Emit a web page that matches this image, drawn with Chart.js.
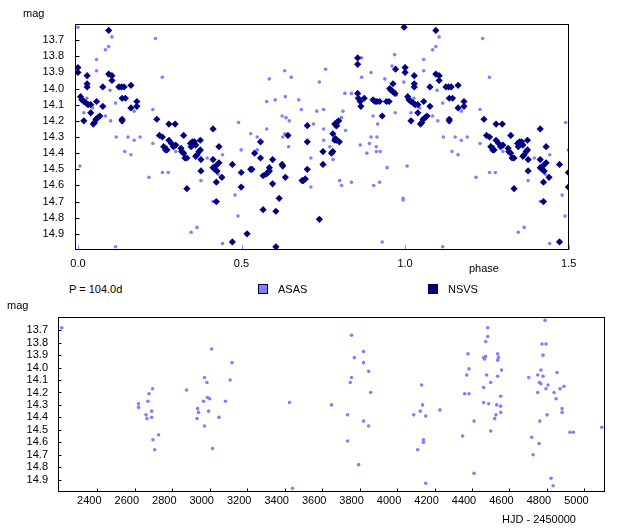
<!DOCTYPE html>
<html>
<head>
<meta charset="utf-8">
<script src="https://cdn.jsdelivr.net/npm/chart.js@4.4.1/dist/chart.umd.min.js"></script>
<style>
  body { margin: 0; background: #fff; width: 643px; height: 532px; position: relative; overflow: hidden;
         font-family: "Liberation Sans", Arial, sans-serif; font-size: 11px; color: #000; }
  canvas { position: absolute; left: 0; }
  .t { position: absolute; line-height: 12px; white-space: nowrap; }
  .sq { position: absolute; width: 8px; height: 8px; border: 1px solid #000040; }
</style>
</head>
<body>
<canvas id="fase" width="643" height="280" style="top:0"></canvas>
<canvas id="tempo" width="643" height="232" style="top:300px"></canvas>

<div class="t" style="left:23px;top:7px">mag</div>
<div class="t" style="left:469px;top:262px">phase</div>
<div class="t" style="left:69px;top:283px">P = 104.0d</div>
<div class="sq" style="left:258px;top:284px;background:#8080ff"></div>
<div class="t" style="left:278px;top:283px">ASAS</div>
<div class="sq" style="left:428px;top:284px;background:#000080"></div>
<div class="t" style="left:448px;top:283px">NSVS</div>
<div class="t" style="left:7px;top:299px">mag</div>
<div class="t" style="left:502px;top:513px">HJD - 2450000</div>

<script>
// dados
const periodo = 104.0;

const asasFase = [0.000, 0.006, 0.018, 0.027, 0.045, 0.057, 0.057, 0.084, 0.094, 0.104, 0.098, 0.084, 0.100, 0.115, 0.117,
  0.135, 0.143, 0.153, 0.162, 0.172, 0.172, 0.190, 0.115, 0.217, 0.229, 0.229, 0.237, 0.258, 0.258, 0.276, 0.270, 0.299,
  0.346, 0.364, 0.376, 0.395, 0.413, 0.429, 0.442, 0.442, 0.480, 0.489, 0.491, 0.499, 0.528, 0.548, 0.548, 0.577, 0.577,
  0.585, 0.603, 0.624, 0.626, 0.632, 0.634, 0.636, 0.646, 0.632, 0.644, 0.652, 0.675, 0.683, 0.712, 0.712, 0.720, 0.730,
  0.738, 0.757, 0.751, 0.751, 0.751, 0.770, 0.780, 0.787, 0.806, 0.810, 0.800, 0.806, 0.818, 0.816, 0.836, 0.836, 0.863,
  0.867, 0.867, 0.883, 0.891, 0.896, 0.896, 0.902, 0.904, 0.912, 0.912, 0.924, 0.916, 0.914, 0.922, 0.930, 0.945, 0.938,
  0.960, 0.968, 0.970, 0.974, 0.996, 0.994, 0.994];
const asasFaseMag = [13.62, 14.48, 14.15, 14.06, 14.12, 13.82, 13.89, 13.76, 13.74, 13.68, 14.01, 14.17, 14.20, 14.09, 14.30,
  14.21, 14.39, 14.30, 14.41, 14.32, 14.14, 14.30, 14.98, 14.55, 14.13, 14.34, 13.69, 13.93, 14.52, 14.52, 14.36, 14.39,
  14.89, 14.86, 14.57, 14.43, 14.70, 14.53, 14.41, 14.96, 14.66, 14.79, 14.21, 14.38, 14.28, 14.30, 14.38, 14.25, 14.08,
  13.94, 14.07, 14.17, 14.30, 13.89, 14.05, 14.18, 14.20, 14.28, 14.36, 13.93, 14.07, 14.13, 14.43, 14.61, 14.22, 14.14,
  13.96, 13.88, 14.13, 14.25, 14.32, 14.36, 14.44, 14.24, 14.18, 14.14, 14.57, 14.60, 14.26, 14.03, 14.03, 14.58, 14.35,
  13.93, 13.81, 14.40, 14.34, 13.90, 14.30, 14.17, 14.60, 14.36, 14.39, 14.39, 14.22, 14.30, 14.58, 14.95, 14.49, 13.94,
  13.86, 13.79, 14.15, 14.04, 13.96, 14.68, 14.69];

const nsvsFase = [0.000, 0.000, 0.094, 0.094, 0.104, 0.104, 0.028, 0.028, 0.028, 0.076, 0.008, 0.012, 0.018, 0.025, 0.031,
  0.039, 0.057, 0.076, 0.039, 0.018, 0.047, 0.051, 0.055, 0.061, 0.067, 0.125, 0.133, 0.141, 0.162, 0.135, 0.145, 0.180,
  0.180, 0.162, 0.135, 0.135, 0.241, 0.249, 0.258, 0.262, 0.268, 0.272, 0.278, 0.297, 0.278, 0.286, 0.292, 0.299, 0.315,
  0.317, 0.323, 0.327, 0.333, 0.323, 0.333, 0.344, 0.350, 0.356, 0.360, 0.346, 0.374, 0.360, 0.364, 0.370, 0.374, 0.376,
  0.376, 0.413, 0.413, 0.413, 0.419, 0.425, 0.421, 0.423, 0.423, 0.431, 0.431, 0.440, 0.472, 0.472, 0.499, 0.499, 0.517,
  0.528, 0.532, 0.540, 0.558, 0.558, 0.566, 0.566, 0.575, 0.581, 0.585, 0.585, 0.595, 0.595, 0.605, 0.605, 0.615, 0.624,
  0.626, 0.634, 0.642, 0.685, 0.689, 0.695, 0.701, 0.701, 0.701, 0.738, 0.749, 0.749, 0.779, 0.775, 0.779, 0.785, 0.791,
  0.799, 0.787, 0.785, 0.791, 0.797, 0.791, 0.855, 0.855, 0.855, 0.857, 0.863, 0.865, 0.875, 0.902, 0.908, 0.914, 0.922,
  0.930, 0.943, 0.951, 0.953, 0.957, 0.963, 0.969, 0.963, 0.971, 0.997];
const nsvsMag = [13.87, 13.90, 13.64, 13.91, 13.92, 13.95, 13.92, 13.97, 13.99, 13.99, 14.05, 14.07, 14.08, 14.09, 14.10,
  14.10, 14.08, 14.11, 14.15, 14.20, 14.22, 14.21, 14.19, 14.18, 14.17, 13.99, 13.99, 13.99, 13.98, 14.06, 14.06, 14.08,
  14.11, 14.12, 14.19, 14.20, 14.19, 14.29, 14.30, 14.36, 14.38, 14.38, 14.22, 14.22, 14.32, 14.34, 14.36, 14.35, 14.37,
  14.39, 14.40, 14.43, 14.43, 14.29, 14.62, 14.34, 14.33, 14.33, 14.35, 14.36, 14.32, 14.42, 14.41, 14.39, 14.38, 14.44,
  14.51, 14.25, 14.44, 14.49, 14.50, 14.51, 14.48, 14.58, 14.70, 14.36, 14.46, 14.55, 14.47, 14.95, 14.52, 14.61, 14.90,
  14.50, 14.50, 14.40, 14.33, 14.43, 14.75, 14.54, 14.53, 14.52, 14.51, 14.49, 14.59, 14.44, 14.76, 14.98, 14.68, 14.47,
  14.48, 14.55, 14.29, 14.57, 14.57, 14.56, 14.23, 14.33, 14.50, 14.81, 14.39, 14.47, 14.28, 14.40, 14.39, 14.32, 14.32,
  14.33, 14.31, 14.22, 14.21, 14.20, 14.23, 13.81, 13.85, 14.03, 14.06, 14.08, 14.11, 14.06, 14.07, 14.08, 14.08, 14.08,
  14.17, 14.08, 14.08, 14.00, 14.01, 14.02, 14.03, 13.97, 13.88, 13.62];

const asasHjd = [2210, 2620, 2620, 2660, 2665, 2670, 2676, 2690, 2690, 2695, 2697, 2706, 2727, 2876, 2932, 2935, 2940,
  2967, 2972, 2972, 2985, 2988, 3000, 2994, 3010, 3015, 3049, 3084, 3109, 3119, 3426, 3442, 3650, 3736, 3736, 3750, 3757,
  3757, 3772, 3795, 3821, 3821, 3821, 3848, 3848, 3859, 4089, 4110, 4124, 4131, 4136, 4141, 4141, 4153, 4153, 4229, 4350,
  4361, 4372, 4379, 4384, 4384, 4411, 4411, 4462, 4467, 4473, 4462, 4462, 4473, 4478, 4484, 4484, 4489, 4500, 4500, 4521,
  4528, 4532, 4537, 4542, 4537, 4537, 4553, 4553, 4553, 4558, 4703, 4719, 4726, 4751, 4751, 4758, 4762, 4760, 4768, 4768,
  4774, 4779, 4779, 4795, 4790, 4795, 4801, 4806, 4822, 4833, 4838, 4849, 4854, 4870, 4881, 4881, 4891, 4923, 4941, 5093];
const asasMag = [13.68, 14.29, 14.32, 14.38, 14.41, 14.27, 14.21, 14.35, 14.40, 14.17, 14.58, 14.66, 14.54, 14.18, 14.41,
  14.33, 14.36, 14.27, 14.47, 14.08, 14.12, 14.24, 14.25, 14.35, 13.85, 14.65, 14.40, 14.27, 14.10, 13.96, 14.28, 14.97,
  14.30, 14.38, 14.59, 14.12, 14.08, 13.74, 13.92, 14.78, 13.87, 13.96, 14.43, 14.03, 14.47, 14.20, 14.38, 14.66, 14.35,
  14.14, 14.30, 14.58, 14.60, 14.39, 14.93, 14.34, 14.55, 14.21, 14.06, 13.89, 14.01, 14.21, 14.43, 14.85, 13.92, 13.93,
  13.91, 14.16, 14.28, 13.79, 14.06, 13.68, 13.75, 14.29, 14.12, 14.51, 14.41, 14.38, 14.30, 13.89, 13.92, 13.94, 14.07,
  14.23, 14.31, 14.36, 14.02, 14.08, 14.56, 14.70, 14.06, 14.20, 14.61, 14.43, 14.12, 14.13, 14.02, 13.81, 13.90, 14.07,
  13.81, 13.62, 14.17, 14.38, 14.14, 14.89, 14.95, 14.20, 14.25, 14.04, 14.17, 14.33, 14.36, 14.15, 14.52, 14.52, 14.48];

const magTicks = [13.7, 13.8, 13.9, 14.0, 14.1, 14.2, 14.3, 14.4, 14.5, 14.6, 14.7, 14.8, 14.9];
const faseTicks = [0, 0.5, 1.0, 1.5];
const hjdTicks = [2400, 2600, 2800, 3000, 3200, 3400, 3600, 3800, 4000, 4200, 4400, 4600, 4800, 5000];

const corAsas = '#8080ff';
const corNsvs = '#000080';
const fonte = { family: '"Liberation Sans", Arial, sans-serif', size: 11 };

// fase repetida ate 1.5 como no grafico original
function dobrar(fase, mag) {
  const pts = [];
  fase.forEach((f, i) => {
    pts.push({ x: f, y: mag[i] });
    if (f + 1 <= 1.5) pts.push({ x: f + 1, y: mag[i] });
  });
  return pts;
}

function pares(xs, ys) {
  return xs.map((x, i) => ({ x: x, y: ys[i] }));
}

// moldura preta e tracinhos para dentro
const moldura = {
  id: 'moldura',
  afterDraw(chart, args, opts) {
    const { ctx, chartArea: a, scales } = chart;
    const l = Math.round(a.left) + 0.5, r = Math.round(a.right) - 0.5;
    const t = Math.round(a.top) + 0.5, b = Math.round(a.bottom) - 0.5;
    ctx.save();
    ctx.lineWidth = 1;
    ctx.strokeStyle = opts.xCor;
    ctx.beginPath();
    scales.x.ticks.forEach(tk => {
      const px = Math.round(scales.x.getPixelForValue(tk.value)) + 0.5;
      ctx.moveTo(px, b);
      ctx.lineTo(px, b - opts.tam);
    });
    ctx.stroke();
    ctx.strokeStyle = '#000';
    ctx.beginPath();
    scales.y.ticks.forEach(tk => {
      const py = Math.round(scales.y.getPixelForValue(tk.value)) + 0.5;
      ctx.moveTo(l, py);
      ctx.lineTo(l + opts.tam, py);
    });
    ctx.stroke();
    ctx.strokeRect(l, t, r - l, b - t);
    ctx.restore();
  }
};

const graficoFase = document.getElementById('fase');

new Chart(graficoFase, {
  type: 'scatter',
  data: {
    datasets: [{
      label: 'NSVS',
      data: dobrar(nsvsFase, nsvsMag),
      pointStyle: 'rectRot',
      pointRadius: 3.6,
      backgroundColor: corNsvs,
      borderWidth: 0,
      order: 0
    }, {
      label: 'ASAS',
      data: dobrar(asasFase, asasFaseMag),
      pointStyle: 'circle',
      pointRadius: 1.8,
      backgroundColor: corAsas,
      borderWidth: 0,
      order: 1
    }]
  },
  options: {
    responsive: false,
    animation: false,
    layout: { padding: { top: 24, right: 74, left: 0, bottom: 0 } },
    plugins: {
      legend: { display: false },
      tooltip: { enabled: false },
      moldura: { tam: 4, xCor: corAsas }
    },
    scales: {
      x: {
        type: 'linear',
        min: -0.009,
        max: 1.501,
        grid: { display: false, drawTicks: false },
        border: { display: false },
        afterBuildTicks: s => { s.ticks = faseTicks.map(v => ({ value: v })); },
        afterFit: s => { s.height = 30; },
        ticks: { color: '#000', font: fonte, padding: 7, maxRotation: 0, autoSkip: false, callback: v => v.toFixed(1) }
      },
      y: {
        reverse: true,
        min: 13.6,
        max: 15.0,
        grid: { display: false, drawTicks: false },
        border: { display: false },
        afterBuildTicks: s => { s.ticks = magTicks.map(v => ({ value: v })); },
        afterFit: s => { s.width = 75; },
        ticks: { color: '#000', font: fonte, padding: 11, autoSkip: false, callback: v => v.toFixed(1) }
      }
    }
  },
  plugins: [moldura]
});

const graficoTempo = document.getElementById('tempo');

new Chart(graficoTempo, {
  type: 'scatter',
  data: {
    datasets: [{
      label: 'ASAS',
      data: pares(asasHjd, asasMag),
      pointStyle: 'circle',
      pointRadius: 1.8,
      backgroundColor: corAsas,
      borderWidth: 0
    }]
  },
  options: {
    responsive: false,
    animation: false,
    layout: { padding: { top: 15, right: 38, left: 0, bottom: 0 } },
    plugins: {
      legend: { display: false },
      tooltip: { enabled: false },
      moldura: { tam: 3, xCor: '#000' }
    },
    scales: {
      x: {
        type: 'linear',
        min: 2190,
        max: 5110,
        grid: { display: false, drawTicks: false },
        border: { display: false },
        afterBuildTicks: s => { s.ticks = hjdTicks.map(v => ({ value: v })); },
        afterFit: s => { s.height = 40; },
        ticks: { color: '#000', font: fonte, padding: 2, labelOffset: -8, maxRotation: 0, autoSkip: false,
                 callback: v => String(v) }
      },
      y: {
        reverse: true,
        min: 13.59,
        max: 15.0,
        grid: { display: false, drawTicks: false },
        border: { display: false },
        afterBuildTicks: s => { s.ticks = magTicks.map(v => ({ value: v })); },
        afterFit: s => { s.width = 58; },
        ticks: { color: '#000', font: fonte, padding: 10, autoSkip: false, callback: v => v.toFixed(1) }
      }
    }
  },
  plugins: [moldura]
});
</script>
</body>
</html>
